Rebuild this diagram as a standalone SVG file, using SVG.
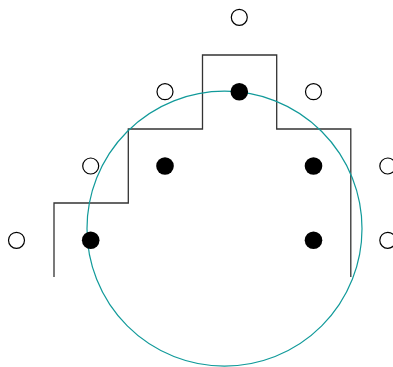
<svg xmlns="http://www.w3.org/2000/svg" width="393" height="367" viewBox="0 0 393 367">
<style>
.open{fill:#fff;stroke:#000;stroke-width:1.2}
.filled{fill:#000;stroke:none}
.stair{fill:none;stroke:#333;stroke-width:1.3}
.ring{fill:none;stroke:#119a9a;stroke-width:1.2}
</style>
<rect width="393" height="367" fill="#fff"/>
<g id="connectors">
<path class="stair" d="M54,277 V203 H128.3 V129 H202.5 V55 H276.7 V129 H350.8 V277"/>
<circle class="ring" cx="224.5" cy="228.7" r="137.5"/>
</g>
<g id="open-1"><circle class="open" cx="239.3" cy="17.3" r="8"/></g>
<g id="open-2"><circle class="open" cx="165" cy="91.7" r="8"/></g>
<g id="open-3"><circle class="open" cx="313.5" cy="91.7" r="8"/></g>
<g id="open-4"><circle class="open" cx="90.7" cy="166" r="8"/></g>
<g id="open-5"><circle class="open" cx="387.8" cy="166" r="8"/></g>
<g id="open-6"><circle class="open" cx="16.5" cy="240.3" r="8"/></g>
<g id="open-7"><circle class="open" cx="387.8" cy="240.3" r="8"/></g>
<g id="filled-1"><circle class="filled" cx="239.3" cy="91.7" r="8.8"/></g>
<g id="filled-2"><circle class="filled" cx="165" cy="166" r="8.8"/></g>
<g id="filled-3"><circle class="filled" cx="313.5" cy="166" r="8.8"/></g>
<g id="filled-4"><circle class="filled" cx="90.7" cy="240.3" r="8.8"/></g>
<g id="filled-5"><circle class="filled" cx="313.5" cy="240.3" r="8.8"/></g>
</svg>
